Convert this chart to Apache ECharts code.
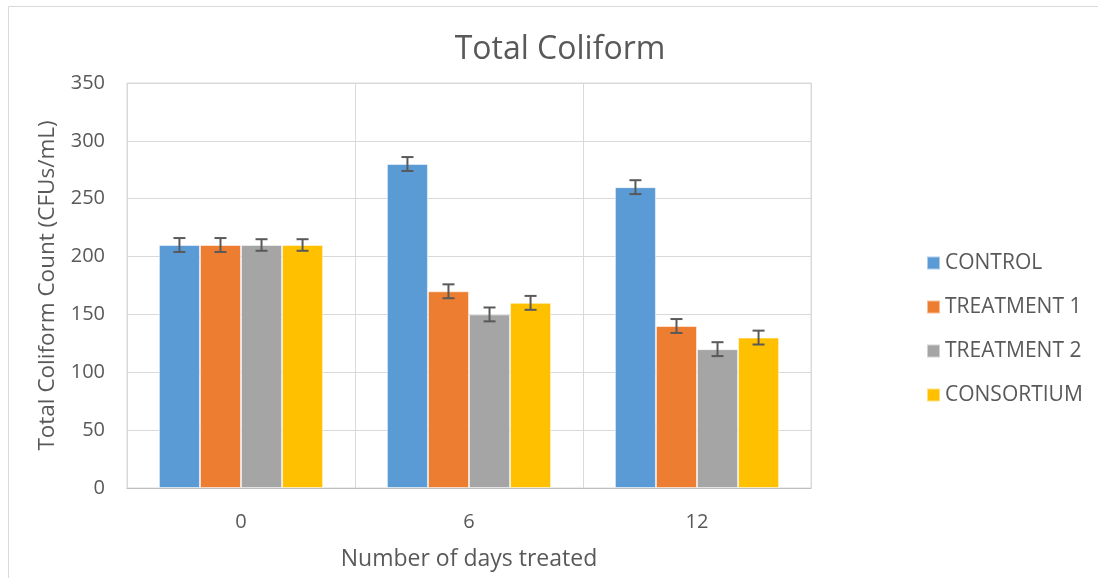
<!DOCTYPE html>
<html><head><meta charset="utf-8">
<script src="https://cdn.jsdelivr.net/npm/echarts@6/dist/echarts.min.js"></script>
<style>html,body{margin:0;padding:0;background:#fff}#c{width:1098px;height:578px}</style>
</head><body><div id="c"></div>
<script>
const categories = ['0', '6', '12'];
const seriesNames = ['CONTROL', 'TREATMENT 1', 'TREATMENT 2', 'CONSORTIUM'];
const control = [210, 280, 260];
const treatment1 = [210, 170, 140];
const treatment2 = [210, 150, 120];
const consortium = [210, 160, 130];
const controlErr = [6, 6, 6];
const treatment1Err = [6, 6, 6];
const treatment2Err = [5, 6, 6];
const consortiumErr = [5, 6, 6];
const colors = ['#5b9bd5', '#ed7d31', '#a5a5a5', '#ffc000'];

const values = [control, treatment1, treatment2, consortium];
const errs = [controlErr, treatment1Err, treatment2Err, consortiumErr];
const CAT_GAP = 0.28;
const font = '"Open Sans", "Liberation Sans", sans-serif';

const barSeries = values.map((v, i) => ({
  name: seriesNames[i], type: 'bar', data: v,
  barGap: '0%', barCategoryGap: (CAT_GAP * 100) + '%',
  itemStyle: { color: colors[i], borderColor: 'rgba(255,255,255,0.5)', borderWidth: 1 },
  z: 2
}));

const errData = [];
values.forEach((v, si) => v.forEach((val, ci) => errData.push([ci, val, errs[si][ci], si])));

const errSeries = {
  type: 'custom', name: 'err', z: 5, silent: true,
  data: errData, encode: { x: 0, y: 1 },
  renderItem: function (params, api) {
    const ci = api.value(0), val = api.value(1), e = api.value(2), si = api.value(3);
    const band = api.size([1, 0])[0];
    const bw = band * (1 - CAT_GAP) / 4;
    const c = api.coord([ci, val]);
    const x = c[0] + (si - 1.5) * bw;
    const yt = api.coord([ci, val + e])[1];
    const yb = api.coord([ci, val - e])[1];
    const hw = 6;
    const st = { stroke: '#595959', lineWidth: 2 };
    return { type: 'group', children: [
      { type: 'line', shape: { x1: x, y1: yt, x2: x, y2: yb }, style: st },
      { type: 'line', shape: { x1: x - hw, y1: yt, x2: x + hw, y2: yt }, style: st },
      { type: 'line', shape: { x1: x - hw, y1: yb, x2: x + hw, y2: yb }, style: st }
    ]};
  }
};

const chart = echarts.init(document.getElementById('c'), null, { renderer: 'canvas' });
chart.setOption({
  animation: false,
  backgroundColor: '#fff',
  textStyle: { fontFamily: font },
  title: { text: 'Total Coliform', left: 555, textAlign: 'center', top: 29,
    textStyle: { fontSize: 32, fontWeight: 'normal', color: '#595959', fontFamily: font } },
  legend: {
    orient: 'vertical', left: 921, top: 244, itemGap: 16, itemWidth: 13, itemHeight: 13,
    data: seriesNames, icon: 'rect',
    textStyle: { fontSize: 21, lineHeight: 28, color: '#595959', fontFamily: font }
  },
  grid: { left: 127, right: 287, top: 83, bottom: 90, show: true, borderColor: '#d9d9d9', borderWidth: 1 },
  xAxis: {
    type: 'category', data: categories,
    name: 'Number of days treated', nameLocation: 'middle', nameGap: 60,
    nameTextStyle: { fontSize: 23, color: '#595959' },
    axisLine: { lineStyle: { color: '#bfbfbf' } },
    axisTick: { show: false },
    splitLine: { show: true, lineStyle: { color: '#d9d9d9' } },
    axisLabel: { fontSize: 20, color: '#595959', margin: 24 }
  },
  yAxis: {
    type: 'value', min: 0, max: 350, interval: 50,
    name: 'Total Coliform Count (CFUs/mL)', nameLocation: 'middle', nameGap: 68, nameRotate: 90,
    nameTextStyle: { fontSize: 22.5, color: '#595959' },
    axisLine: { show: false }, axisTick: { show: false },
    splitLine: { lineStyle: { color: '#d9d9d9', width: 1 } },
    axisLabel: { fontSize: 20, color: '#595959', margin: 22 }
  },
  graphic: [
    { type: 'rect', shape: { x: 8.5, y: 6.5, width: 1100, height: 600 }, style: { fill: 'none', stroke: '#d9d9d9', lineWidth: 1 }, z: -1 }
  ],
  series: barSeries.concat([errSeries])
});
</script></body></html>
